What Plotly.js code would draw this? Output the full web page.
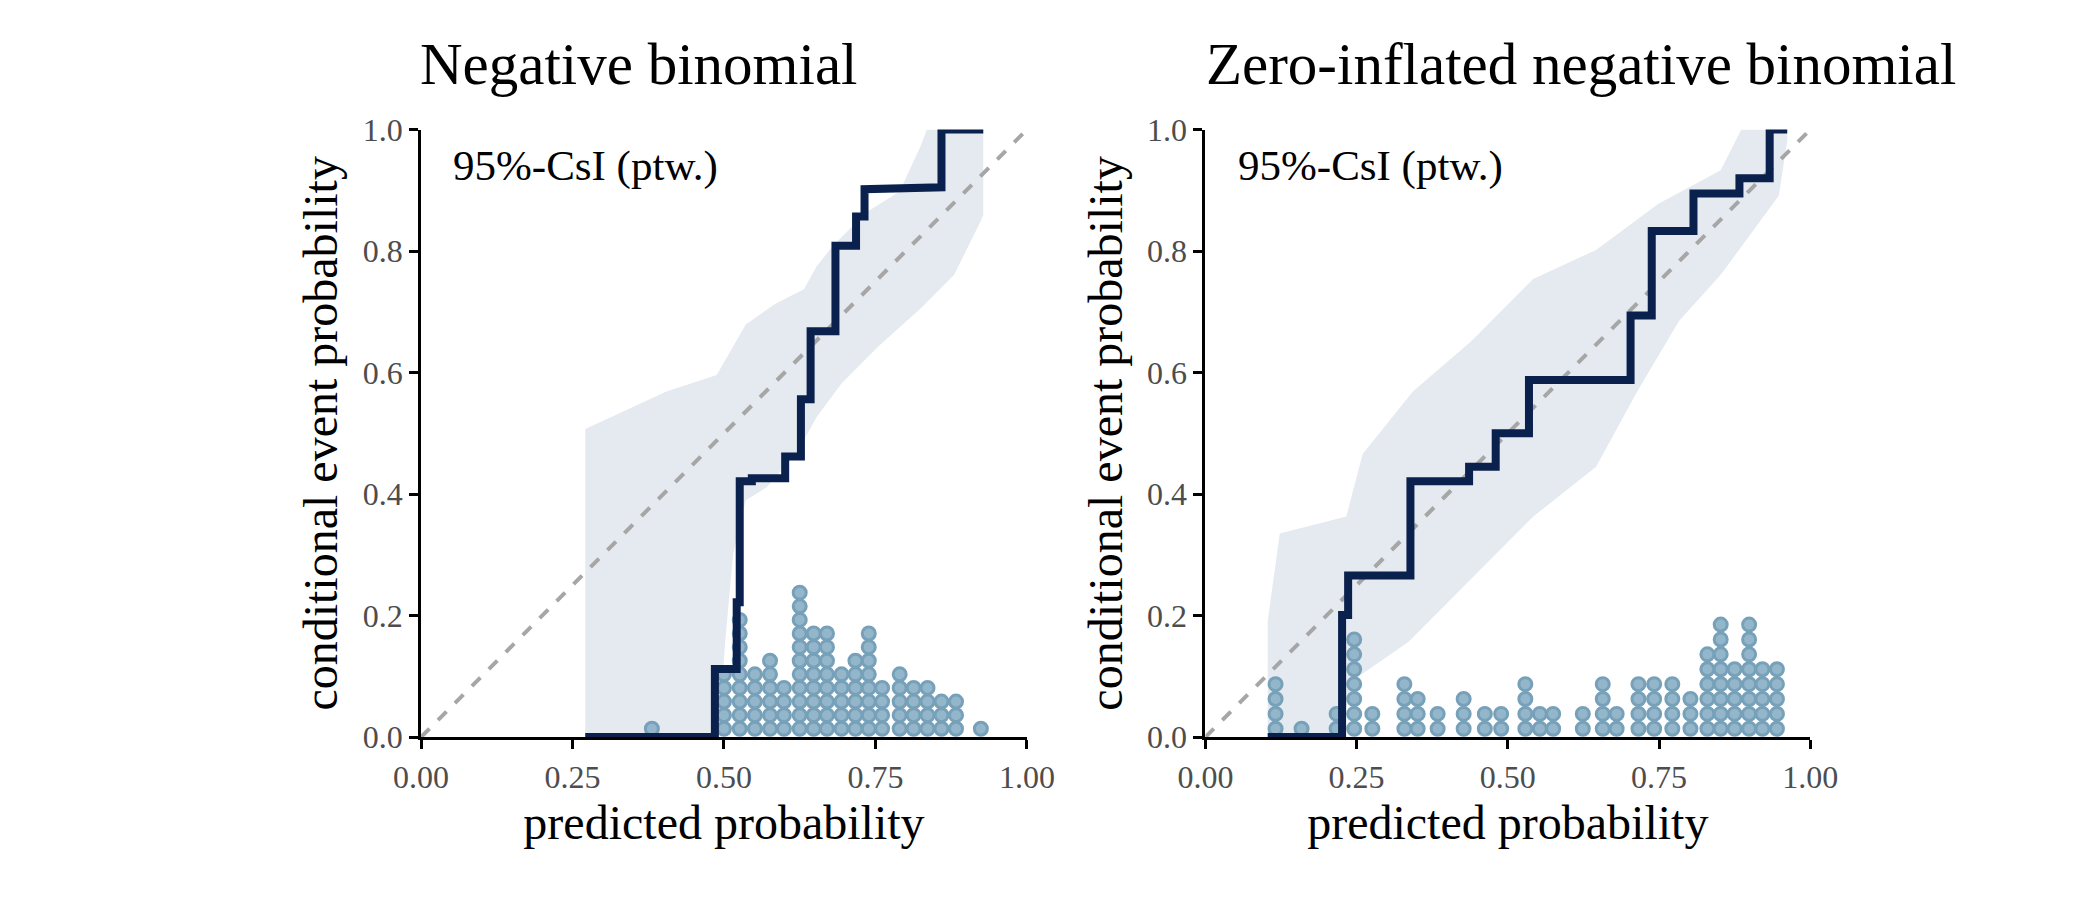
<!DOCTYPE html>
<html>
<head>
<meta charset="utf-8">
<script src="https://cdn.plot.ly/plotly-3.0.1.min.js"></script>
<style>body{margin:0;background:#fff}</style>
</head>
<body>
<div id="chart" style="width:2100px;height:900px"></div>
<script>
// ---- left panel: negative binomial ----
const nb_step_x = [0.271, 0.485, 0.485, 0.521, 0.521, 0.526, 0.526, 0.546, 0.546, 0.601, 0.601, 0.627, 0.627, 0.643, 0.643, 0.684, 0.684, 0.718, 0.718, 0.732, 0.732, 0.783, 0.783, 0.859, 0.859, 0.928];
const nb_step_y = [0, 0, 0.112, 0.112, 0.222, 0.222, 0.421, 0.421, 0.426, 0.426, 0.462, 0.462, 0.556, 0.556, 0.668, 0.668, 0.809, 0.809, 0.857, 0.857, 0.902, 0.902, 0.905, 0.905, 1.0, 1.0];
const nb_upper_x = [0.271, 0.405, 0.488, 0.515, 0.536, 0.584, 0.632, 0.653, 0.680, 0.735, 0.790, 0.825, 0.835, 0.928];
const nb_upper_y = [0.507, 0.569, 0.596, 0.644, 0.679, 0.713, 0.737, 0.775, 0.809, 0.864, 0.898, 0.974, 1.0, 1.0];
const nb_lower_x = [0.271, 0.491, 0.502, 0.515, 0.536, 0.570, 0.619, 0.653, 0.694, 0.756, 0.825, 0.880, 0.924, 0.928];
const nb_lower_y = [0, 0, 0.157, 0.301, 0.390, 0.411, 0.466, 0.527, 0.582, 0.644, 0.706, 0.761, 0.850, 0.860];
const nb_dot_x = [0.381, 0.500, 0.526, 0.551, 0.576, 0.599, 0.625, 0.648, 0.670, 0.694, 0.717, 0.739, 0.761, 0.790, 0.813, 0.836, 0.859, 0.883, 0.924];
const nb_dot_n = [1, 5, 9, 5, 6, 4, 11, 8, 8, 5, 6, 8, 4, 5, 4, 4, 3, 3, 1];

// ---- right panel: zero-inflated negative binomial ----
const zinb_step_x = [0.103, 0.226, 0.226, 0.236, 0.236, 0.339, 0.339, 0.436, 0.436, 0.480, 0.480, 0.535, 0.535, 0.703, 0.703, 0.738, 0.738, 0.807, 0.807, 0.883, 0.883, 0.933, 0.933, 0.962];
const zinb_step_y = [0, 0, 0.201, 0.201, 0.266, 0.266, 0.421, 0.421, 0.445, 0.445, 0.5, 0.5, 0.588, 0.588, 0.694, 0.694, 0.833, 0.833, 0.895, 0.895, 0.920, 0.920, 1.0, 1.0];
const zinb_upper_x = [0.103, 0.123, 0.233, 0.260, 0.343, 0.439, 0.542, 0.646, 0.749, 0.852, 0.886, 0.962];
const zinb_upper_y = [0.191, 0.335, 0.363, 0.466, 0.569, 0.651, 0.754, 0.802, 0.878, 0.933, 1.0, 1.0];
const zinb_lower_x = [0.103, 0.219, 0.246, 0.336, 0.439, 0.542, 0.646, 0.714, 0.783, 0.852, 0.948, 0.962];
const zinb_lower_y = [0, 0, 0.095, 0.157, 0.260, 0.363, 0.445, 0.569, 0.685, 0.761, 0.891, 0.981];
const zinb_dot_x = [0.116, 0.159, 0.217, 0.246, 0.276, 0.329, 0.351, 0.384, 0.427, 0.462, 0.489, 0.529, 0.553, 0.575, 0.624, 0.657, 0.680, 0.716, 0.742, 0.772, 0.802, 0.830, 0.852, 0.875, 0.899, 0.921, 0.945];
const zinb_dot_n = [4, 1, 2, 7, 2, 4, 3, 2, 3, 2, 2, 4, 2, 2, 2, 4, 2, 4, 4, 4, 3, 6, 8, 5, 8, 5, 5];

const titles = ["Negative binomial", "Zero-inflated negative binomial"];
const x_ticks = [0, 0.25, 0.5, 0.75, 1];
const x_tick_text = ["0.00", "0.25", "0.50", "0.75", "1.00"];
const y_ticks = [0, 0.2, 0.4, 0.6, 0.8, 1];
const y_tick_text = ["0.0", "0.2", "0.4", "0.6", "0.8", "1.0"];

const band_color = "#e5e9f0";
const line_color = "#0b214d";
const serif = "Liberation Serif, Times New Roman, serif";

function stack_dots(xs, ns, base, step) {
    let x = [], y = [];
    xs.forEach((v, i) => {
        for (let k = 0; k < ns[i]; k++) { x.push(v); y.push(base + step * k); }
    });
    return {x, y};
}

function panel(ax, step_x, step_y, up_x, up_y, lo_x, lo_y, dot_x, dot_n, dot_step) {
    let xa = ax === 1 ? "x" : "x" + ax, ya = ax === 1 ? "y" : "y" + ax;
    let dots = stack_dots(dot_x, dot_n, 0.0137, dot_step);
    return [
        {x: up_x.concat(lo_x.slice().reverse()), y: up_y.concat(lo_y.slice().reverse()),
         fill: "toself", fillcolor: band_color, line: {width: 0}, mode: "lines",
         xaxis: xa, yaxis: ya, hoverinfo: "skip"},
        {x: [0, 1], y: [0, 1], mode: "lines", line: {color: "#a6a6a6", width: 4, dash: "dash"},
         xaxis: xa, yaxis: ya},
        {x: dots.x, y: dots.y, mode: "markers", xaxis: xa, yaxis: ya,
         marker: {size: 13, color: "#93b6cb", line: {color: "#77a0b9", width: 3}}},
        {x: step_x, y: step_y, mode: "lines", line: {color: line_color, width: 8},
         xaxis: xa, yaxis: ya}
    ];
}

let data = [].concat(
    panel(1, nb_step_x, nb_step_y, nb_upper_x, nb_upper_y, nb_lower_x, nb_lower_y, nb_dot_x, nb_dot_n, 0.0224),
    panel(2, zinb_step_x, zinb_step_y, zinb_upper_x, zinb_upper_y, zinb_lower_x, zinb_lower_y, zinb_dot_x, zinb_dot_n, 0.0245)
);

function x_axis(domain, anchor) {
    return {domain, anchor, range: [0, 1], showgrid: false, zeroline: false,
        showline: true, linecolor: "#000", linewidth: 3, ticks: "outside", ticklen: 9,
        tickwidth: 3, tickcolor: "#000", tickvals: x_ticks, ticktext: x_tick_text,
        tickfont: {family: serif, size: 32, color: "#4d4d4d"},
        title: {text: "predicted probability", font: {family: serif, size: 48, color: "#000"}, standoff: 12}};
}
function y_axis(domain, anchor) {
    return {domain, anchor, range: [0, 1], showgrid: false, zeroline: false,
        showline: true, linecolor: "#000", linewidth: 3, ticks: "outside", ticklen: 9,
        tickwidth: 3, tickcolor: "#000", tickvals: y_ticks, ticktext: y_tick_text,
        tickfont: {family: serif, size: 32, color: "#4d4d4d"},
        title: {text: "conditional event probability", font: {family: serif, size: 48, color: "#000"}, standoff: 10}};
}

const ydom = [0.181, 0.856];
let layout = {
    width: 2100, height: 900, showlegend: false,
    paper_bgcolor: "#fff", plot_bgcolor: "#fff",
    margin: {l: 0, r: 0, t: 0, b: 0},
    xaxis: x_axis([0.2005, 0.489], "y"),
    yaxis: y_axis(ydom, "x"),
    xaxis2: x_axis([0.574, 0.862], "y2"),
    yaxis2: y_axis(ydom, "x2"),
    annotations: [
        {text: titles[0], xref: "paper", yref: "paper", x: 0.304, y: 0.929, xanchor: "center", yanchor: "middle",
         showarrow: false, font: {family: serif, size: 59, color: "#000"}},
        {text: titles[1], xref: "paper", yref: "paper", x: 0.753, y: 0.929, xanchor: "center", yanchor: "middle",
         showarrow: false, font: {family: serif, size: 59, color: "#000"}},
        {text: "95%-CsI (ptw.)", xref: "x", yref: "y", x: 0.05, y: 0.94, xanchor: "left", showarrow: false,
         font: {family: serif, size: 43, color: "#000"}},
        {text: "95%-CsI (ptw.)", xref: "x2", yref: "y2", x: 0.05, y: 0.94, xanchor: "left", showarrow: false,
         font: {family: serif, size: 43, color: "#000"}}
    ]
};

Plotly.newPlot("chart", data, layout, {displayModeBar: false, staticPlot: true});
</script>
</body>
</html>
